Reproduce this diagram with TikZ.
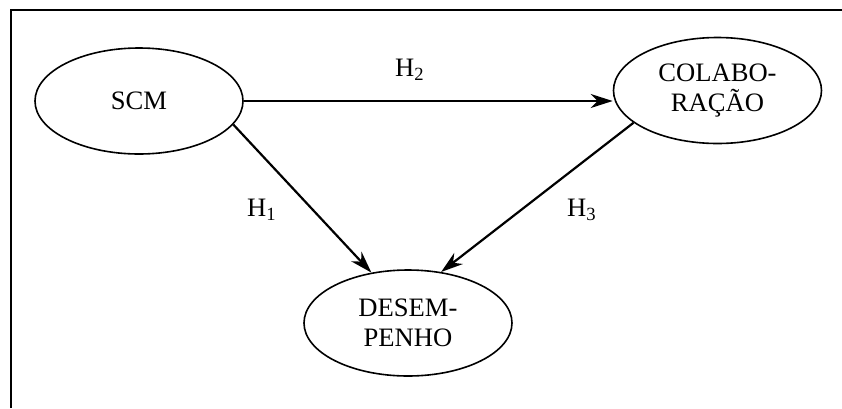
\documentclass[tikz,border=0pt]{standalone}
\usepackage{fontspec}
\setmainfont{Liberation Serif}
\usetikzlibrary{shapes.geometric,arrows.meta}
\begin{document}
\begin{tikzpicture}[x=0.5pt,y=-0.5pt,
  every node/.style={font=\fontsize{13.3}{15}\selectfont},
  construct/.style={ellipse,draw,line width=0.8pt,minimum width=104pt,minimum height=53pt,inner sep=0pt,align=center},
  hyp/.style={inner sep=0pt},
  arr/.style={line width=1.1pt,-{Stealth[length=11pt,width=7pt,inset=3.5pt]}}]
\useasboundingbox (0,0) rectangle (842,408);
\draw[line width=1.1pt] (11,408) -- (11,10) -- (842,10);
\node[construct] (scm) at (139,101) {SCM};
\node[construct] (colab) at (717.5,90.5) {COLABO-\\RAÇÃO};
\node[construct] (desemp) at (408,323) {DESEM-\\PENHO};
\draw[arr] (scm.east) -- (scm.east -| colab.west);
\draw[arr] (scm.-14.5) -- (desemp.126.7);
\draw[arr] (colab.201.5) -- (desemp.57.5);
\node[hyp] (h2) at (410,70) {H\textsubscript{2}};
\node[hyp] (h1) at (262,210) {H\textsubscript{1}};
\node[hyp] (h3) at (582,210) {H\textsubscript{3}};
\end{tikzpicture}
\end{document}
